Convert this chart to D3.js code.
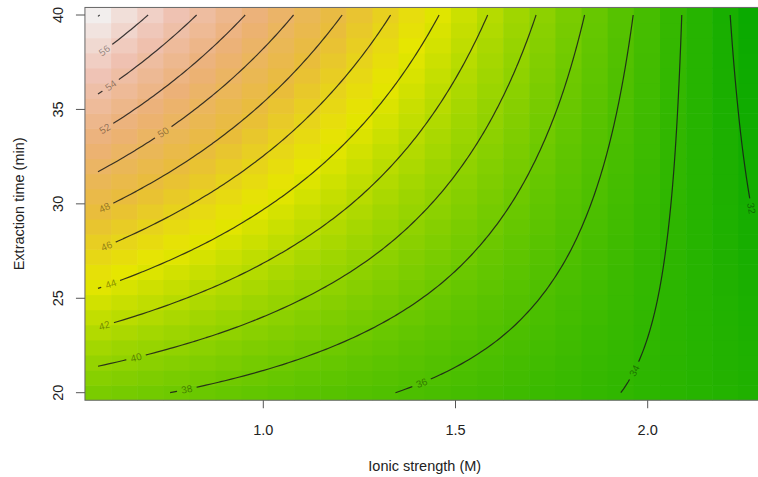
<!DOCTYPE html>
<html>
<head>
<meta charset="utf-8">
<script src="https://cdn.jsdelivr.net/npm/d3@7"></script>
<style>
    body { margin: 0; background: #fff; }
    text { font-family: "Liberation Sans", Arial, sans-serif; }
</style>
</head>
<body>
<div id="chart-area"></div>
<script>
// Grid nodes of the fitted surface
const ionicStrength = [0.57, 0.74, 0.91, 1.08, 1.25, 1.42, 1.59, 1.76, 1.93, 2.10, 2.27];
const extractionTime = [20, 24, 28, 32, 36, 40];

// Response at each ionic strength, one row per extraction time
const respAt20 = [38.64, 38.06, 37.48, 36.90, 36.32, 35.74, 35.16, 34.58, 34.00, 33.42, 32.84];
const respAt24 = [42.52, 41.52, 40.52, 39.51, 38.51, 37.51, 36.51, 35.50, 34.50, 33.50, 32.50];
const respAt28 = [46.41, 44.98, 43.56, 42.13, 40.71, 39.28, 37.85, 36.43, 35.00, 33.58, 32.15];
const respAt32 = [50.29, 48.45, 46.60, 44.75, 42.90, 41.05, 39.20, 37.35, 35.51, 33.66, 31.81];
const respAt36 = [54.18, 51.91, 49.64, 47.37, 45.09, 42.82, 40.55, 38.28, 36.01, 33.74, 31.47];
const respAt40 = [58.07, 55.37, 52.68, 49.98, 47.29, 44.59, 41.90, 39.20, 36.51, 33.82, 31.12];

const contourLevels = [32, 34, 36, 38, 40, 42, 44, 46, 48, 50, 52, 54, 56, 58];
// where each contour label sits (ionic strength, time); 58 has none
const labelSpots = [[2.279, 29.14], [1.972, 21.09], [1.413, 20.67], [0.796, 20.24],
    [0.663, 21.89], [0.593, 23.58], [0.601, 25.81], [0.591, 27.82], [0.588, 29.94],
    [0.744, 33.91], [0.593, 34.07], [0.596, 36.35], [0.588, 38.25], null];

const xTicks = [1.0, 1.5, 2.0];
const yTicks = [20, 25, 30, 35, 40];

// R terrain.colors, low to high
const terrain = ['#00A600', '#2DB600', '#63C600', '#A0D600', '#E6E600',
    '#E9BD3A', '#ECB176', '#EFC2B3', '#F2F2F2'];

const WIDTH = 758;
const HEIGHT = 477;

const svg = d3.select('#chart-area').append('svg')
    .attr('width', WIDTH)
    .attr('height', HEIGHT)
    .style('display', 'block');

const xScale = d3.scaleLinear().domain([1, 2]).range([263.3, 647.7]);
const yScale = d3.scaleLinear().domain([20, 40]).range([392.7, 15]);

// surface lookup: piecewise linear along each row, then along time
const rows = [respAt20, respAt24, respAt28, respAt32, respAt36, respAt40];
const rowScales = rows.map(r => d3.scaleLinear().domain(ionicStrength).range(r));
function surface(x, t) {
    const col = rowScales.map(s => s(x));
    return d3.scaleLinear().domain(extractionTime).range(col)(t);
}

const xMin = d3.min(ionicStrength), xMax = d3.max(ionicStrength);
const tMin = d3.min(extractionTime), tMax = d3.max(extractionTime);

const NX = 26, NY = 26;
const xStep = (xMax - xMin) / (NX - 1);
const tStep = (tMax - tMin) / (NY - 1);

// plot box = outer edges of the image cells
const box = {
    x0: xScale(xMin - xStep / 2), x1: xScale(xMax + xStep / 2),
    y0: yScale(tMax + tStep / 2), y1: yScale(tMin - tStep / 2)
};

const allZ = rows.flat();
const [zLo, zHi] = d3.extent(allZ);
const colour = d3.scaleLinear()
    .domain(terrain.map((c, k) => (zLo - 0.8) + k * (zHi + 0.3 - (zLo - 0.8)) / (terrain.length - 1)))
    .range(terrain)
    .clamp(true);

svg.append('clipPath').attr('id', 'plot-clip')
    .append('rect')
    .attr('x', box.x0).attr('y', box.y0)
    .attr('width', box.x1 - box.x0).attr('height', box.y1 - box.y0);

const plot = svg.append('g').attr('clip-path', 'url(#plot-clip)');

// Image cells
const cells = [];
for (let j = 0; j < NY; j++) {
    for (let i = 0; i < NX; i++) {
        const x = xMin + i * xStep, t = tMin + j * tStep;
        cells.push({x, t, z: surface(x, t)});
    }
}
const cw = xScale(xStep) - xScale(0);
const ch = yScale(0) - yScale(tStep);
plot.selectAll('rect.cell')
    .data(cells)
    .enter()
    .append('rect')
    .attr('class', 'cell')
    .attr('x', d => xScale(d.x - xStep / 2))
    .attr('y', d => yScale(d.t + tStep / 2))
    .attr('width', cw + 0.6)
    .attr('height', ch + 0.6)
    .attr('fill', d => colour(d.z));

// Contour lines from a finer sampling of the same surface
const FN = 104;
const fx = d3.range(FN).map(i => xMin + i * (xMax - xMin) / (FN - 1));
const ft = d3.range(FN).map(j => tMax - j * (tMax - tMin) / (FN - 1));
const values = [];
ft.forEach(t => fx.forEach(x => values.push(surface(x, t))));

const polys = d3.contours().size([FN, FN]).thresholds(contourLevels)(values);

const toPx = p => [
    xScale(xMin + (p[0] - 0.5) * (xMax - xMin) / (FN - 1)),
    yScale(tMax - (p[1] - 0.5) * (tMax - tMin) / (FN - 1))
];
const inside = p => p[0] > 0 && p[0] < FN && p[1] > 0 && p[1] < FN;

// strip the grid border off each ring, leaving the open contour lines
function ringToLines(ring) {
    const pts = ring.slice(0, ring.length - 1);
    const n = pts.length;
    const start = pts.findIndex(p => !inside(p));
    if (start < 0) return [ring.map(toPx)];
    const lines = [];
    let cur = [];
    for (let k = 1; k <= n; k++) {
        const p = pts[(start + k) % n];
        if (inside(p)) cur.push(toPx(p));
        else {
            if (cur.length > 1) lines.push(cur);
            cur = [];
        }
    }
    if (cur.length > 1) lines.push(cur);
    return lines;
}

const levelLines = polys.map(c => {
    const lines = [];
    c.coordinates.forEach(poly => poly.forEach(ring => lines.push(...ringToLines(ring))));
    return {value: c.value, lines};
});

// Label positions along each line
const labels = [];
levelLines.forEach((lv, k) => {
    const spot = labelSpots[k];
    if (!spot) return;
    const target = [xScale(spot[0]), yScale(spot[1])];
    let best = null;
    lv.lines.forEach(line => line.forEach((p, idx) => {
        const d = Math.hypot(p[0] - target[0], p[1] - target[1]);
        if (!best || d < best.d) best = {d, line, idx};
    }));
    if (!best) return;
    const L = best.line;
    const a = L[Math.max(0, best.idx - 2)], b = L[Math.min(L.length - 1, best.idx + 2)];
    let ang = Math.atan2(b[1] - a[1], b[0] - a[0]) * 180 / Math.PI;
    if (ang > 90) ang -= 180;
    if (ang < -90) ang += 180;
    labels.push({x: L[best.idx][0], y: L[best.idx][1], ang, text: String(lv.value)});
});

const mask = svg.append('mask')
    .attr('id', 'label-gaps')
    .attr('maskUnits', 'userSpaceOnUse')
    .attr('x', 0).attr('y', 0).attr('width', WIDTH).attr('height', HEIGHT);
mask.append('rect').attr('width', WIDTH).attr('height', HEIGHT).attr('fill', '#fff');
mask.selectAll('rect.gap')
    .data(labels)
    .enter()
    .append('rect')
    .attr('class', 'gap')
    .attr('x', -10).attr('y', -5)
    .attr('width', 20).attr('height', 10)
    .attr('transform', d => `translate(${d.x},${d.y}) rotate(${d.ang})`)
    .attr('fill', '#000');

const lineGen = d3.line();
const allLines = levelLines.flatMap(lv => lv.lines);
plot.append('g')
    .attr('mask', 'url(#label-gaps)')
    .selectAll('path')
    .data(allLines)
    .enter()
    .append('path')
    .attr('d', d => lineGen(d))
    .attr('fill', 'none')
    .attr('stroke', '#1a1a1a')
    .attr('stroke-opacity', 0.85)
    .attr('stroke-width', 1.2);

plot.selectAll('text.clab')
    .data(labels)
    .enter()
    .append('text')
    .attr('class', 'clab')
    .attr('transform', d => `translate(${d.x},${d.y}) rotate(${d.ang})`)
    .attr('text-anchor', 'middle')
    .attr('dy', '0.35em')
    .attr('font-size', '10px')
    .attr('fill', '#000')
    .attr('fill-opacity', 0.4)
    .text(d => d.text);

// Frame
svg.append('rect')
    .attr('x', box.x0).attr('y', box.y0)
    .attr('width', box.x1 - box.x0).attr('height', box.y1 - box.y0)
    .attr('fill', 'none')
    .attr('stroke', '#666')
    .attr('stroke-width', 1);

// X axis
const xAxis = svg.append('g');
xAxis.selectAll('line')
    .data(xTicks)
    .enter()
    .append('line')
    .attr('x1', d => xScale(d)).attr('x2', d => xScale(d))
    .attr('y1', box.y1).attr('y2', box.y1 + 8)
    .attr('stroke', '#555');
xAxis.selectAll('text')
    .data(xTicks)
    .enter()
    .append('text')
    .attr('x', d => xScale(d))
    .attr('y', 435)
    .attr('text-anchor', 'middle')
    .attr('font-size', '14.5px')
    .attr('fill', '#222')
    .text(d => d3.format('.1f')(d));

svg.append('text')
    .attr('x', (box.x0 + box.x1) / 2)
    .attr('y', 471)
    .attr('text-anchor', 'middle')
    .attr('font-size', '14.5px')
    .attr('fill', '#222')
    .text('Ionic strength (M)');

// Y axis
const yAxis = svg.append('g');
yAxis.selectAll('line')
    .data(yTicks)
    .enter()
    .append('line')
    .attr('x1', box.x0 - 9).attr('x2', box.x0)
    .attr('y1', d => yScale(d)).attr('y2', d => yScale(d))
    .attr('stroke', '#555');
yAxis.selectAll('text')
    .data(yTicks)
    .enter()
    .append('text')
    .attr('transform', d => `translate(58,${yScale(d)}) rotate(-90)`)
    .attr('text-anchor', 'middle')
    .attr('dy', '0.35em')
    .attr('font-size', '14.5px')
    .attr('fill', '#222')
    .text(d => d);

svg.append('text')
    .attr('transform', `translate(19,${(box.y0 + box.y1) / 2}) rotate(-90)`)
    .attr('text-anchor', 'middle')
    .attr('dy', '0.35em')
    .attr('font-size', '14.5px')
    .attr('fill', '#222')
    .text('Extraction time (min)');
</script>
</body>
</html>
